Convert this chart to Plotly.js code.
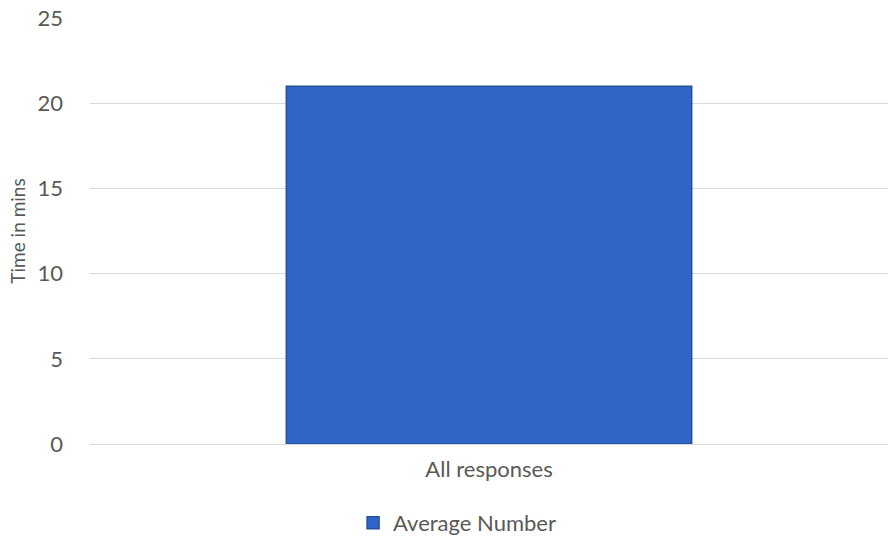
<!DOCTYPE html>
<html><head><meta charset="utf-8">
<script src="https://cdn.plot.ly/plotly-3.0.1.min.js"></script>
<style>html,body{margin:0;padding:0;background:#fff}#c{width:888px;height:537px}</style>
</head><body><div id="c"></div>
<script>
const categories = ["All responses"];
const seriesName = "Average Number";
const values = [21];
const yTicks = [0, 5, 10, 15, 20, 25];

const trace = {
  type: "bar",
  x: categories,
  y: values,
  name: seriesName,
  marker: {color: "#2f65c6", line: {color: "#27509c", width: 1.5}},
  showlegend: true
};
const layout = {
  width: 888, height: 537,
  margin: {l: 90, r: 0, t: 18, b: 93},
  paper_bgcolor: "#fff", plot_bgcolor: "#fff",
  font: {family: "Lato, 'Open Sans', sans-serif", size: 22, color: "#595959"},
  bargap: 0.492,
  xaxis: {showline: true, linecolor: "#d9d9d9", linewidth: 1, ticks: "", ticklabelstandoff: 6,
          automargin: false, tickfont: {size: 22, color: "#595959"}},
  yaxis: {range: [0, 25], tickvals: yTicks, showgrid: true, gridcolor: "#d9d9d9", gridwidth: 1,
          automargin: false, zeroline: false, ticks: "", ticklabelstandoff: 26,
          tickfont: {size: 22, color: "#595959"},
          title: {text: "Time in mins", font: {size: 19, color: "#595959"}, standoff: 6}},
  legend: {orientation: "h", x: 0.46, xanchor: "center", yref: "container", y: 0.026, yanchor: "middle",
           font: {size: 22, color: "#595959"}, itemwidth: 30}
};
Plotly.newPlot("c", [trace], layout, {displayModeBar: false, staticPlot: true});
</script></body></html>
